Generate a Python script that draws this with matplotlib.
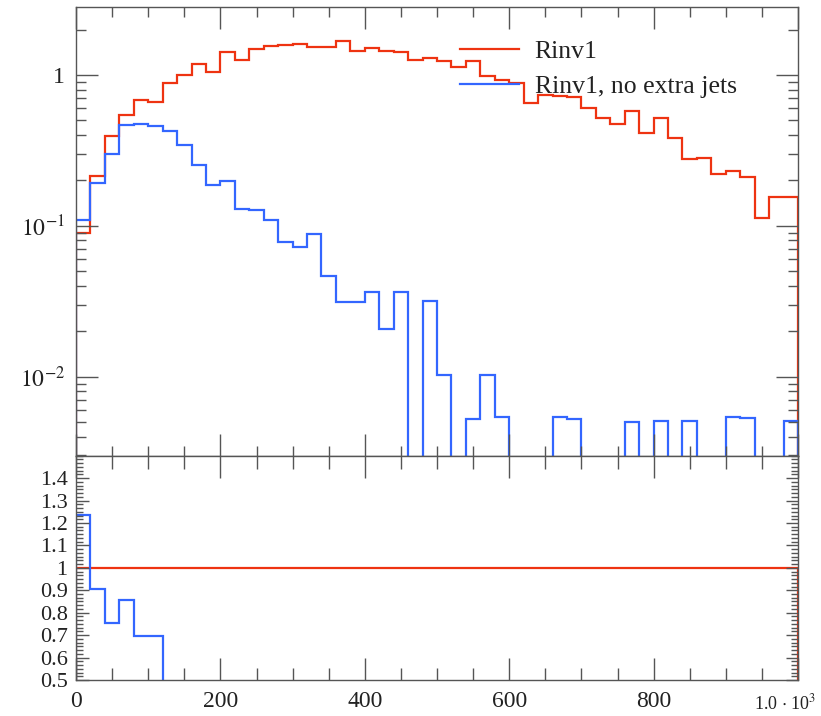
import numpy as np
import matplotlib
matplotlib.use("Agg")
import matplotlib.pyplot as plt
from matplotlib.ticker import MultipleLocator, AutoMinorLocator, LogLocator, NullFormatter, FixedLocator, FixedFormatter

# ---------------- data ----------------
bin_edges = np.arange(0, 1001, 20)  # 50 bins of width 20
red_vals = [0.089, 0.213, 0.394, 0.543, 0.683, 0.660, 0.889, 1.00, 1.18, 1.05,
            1.41, 1.26, 1.49, 1.55, 1.58, 1.60, 1.53, 1.54, 1.67, 1.43,
            1.50, 1.43, 1.41, 1.26, 1.29, 1.24, 1.135, 1.23, 0.985, 0.926,
            0.89, 0.649, 0.737, 0.726, 0.718, 0.601, 0.516, 0.473, 0.58, 0.41,
            0.516, 0.38, 0.276, 0.28, 0.221, 0.229, 0.212, 0.112, 0.156, 0.156]
blue_vals = [0.110, 0.193, 0.297, 0.465, 0.474, 0.459, 0.425, 0.343, 0.253, 0.187,
             0.199, 0.130, 0.127, 0.109, 0.0785, 0.072, 0.0883, 0.0465, 0.0314, 0.0314,
             0.0366, 0.0206, 0.0366, 0.0, 0.0317, 0.0102, 0.0, 0.0052, 0.0102, 0.00542,
             0.0, 0.0, 0.0, 0.0054, 0.0052, 0.0, 0.0, 0.0, 0.00502, 0.0,
             0.0051, 0.0, 0.0051, 0.0, 0.0, 0.0054, 0.0053, 0.0, 0.0, 0.0051]
labels = ["Rinv1", "Rinv1, no extra jets"]
x_tick_vals = [0, 200, 400, 600, 800, 1000]
x_tick_labels = ["0", "200", "400", "600", "800", ""]
ratio_tick_vals = [0.5, 0.6, 0.7, 0.8, 0.9, 1.0, 1.1, 1.2, 1.3, 1.4]
ratio_tick_labels = ["0.5", "0.6", "0.7", "0.8", "0.9", "1", "1.1", "1.2", "1.3", "1.4"]

RED = "#EE3311"
BLUE = "#3366FF"
AX_COL = "#555555"

plt.rcParams["font.family"] = ["Liberation Serif", "DejaVu Serif"]
plt.rcParams["mathtext.fontset"] = "stix"

W, H = 821, 716
fig = plt.figure(figsize=(W / 100, H / 100), dpi=100)

left, right = 76 / W, 798 / W
up_top, mid, lo_bot = 1 - 7 / H, 1 - 455.7 / H, 1 - 680 / H
ax = fig.add_axes([left, mid, right - left, up_top - mid])
axr = fig.add_axes([left, lo_bot, right - left, mid - lo_bot])

red = np.array(red_vals)
blue = np.array(blue_vals)
blue_plot = np.where(blue > 0, blue, 1e-9)

ax.stairs(red, bin_edges, color=RED, lw=1.6, label=labels[0])
ax.stairs(blue_plot, bin_edges, color=BLUE, lw=1.6, label=labels[1])
ax.set_yscale("log")
ax.set_ylim(0.00299, 2.82)
ax.set_xlim(0, 1000)

ratio_red = red / red
ratio_blue = np.where(blue > 0, blue / red, 1e-9)
axr.stairs(ratio_red, bin_edges, color=RED, lw=1.6)
axr.stairs(ratio_blue, bin_edges, color=BLUE, lw=1.6)
axr.set_xlim(0, 1000)
axr.set_ylim(0.5, 1.5)

for a in (ax, axr):
    for s in a.spines.values():
        s.set_color(AX_COL)
        s.set_linewidth(1.0)
    a.tick_params(which="both", direction="in", top=True, right=True, colors=AX_COL,
                  labelcolor="#222222", labelsize=17)
    a.tick_params(which="major", length=15.5, width=1.0)
    a.tick_params(which="minor", length=7, width=1.0)
    a.xaxis.set_major_locator(FixedLocator(x_tick_vals))
    a.xaxis.set_minor_locator(MultipleLocator(50))

ax.yaxis.set_major_locator(LogLocator(base=10, numticks=10))
ax.yaxis.set_minor_locator(LogLocator(base=10, subs=np.arange(2, 10), numticks=10))
ax.yaxis.set_minor_formatter(NullFormatter())
ax.yaxis.set_major_formatter(matplotlib.ticker.FuncFormatter(
    lambda v, p: "1" if abs(v - 1) < 1e-9 else r"$10^{%d}$" % round(np.log10(v))))
ax.tick_params(axis="x", labelbottom=False)
ax.tick_params(axis="y", pad=8)

axr.yaxis.set_major_locator(FixedLocator(ratio_tick_vals))
axr.yaxis.set_major_formatter(FixedFormatter(ratio_tick_labels))
axr.yaxis.set_minor_locator(AutoMinorLocator(6))
axr.tick_params(axis="y", which="major", length=9, labelsize=16, pad=6)
axr.tick_params(axis="y", which="minor", length=5)
axr.tick_params(axis="x", which="minor", length=9)
axr.xaxis.set_major_formatter(FixedFormatter(x_tick_labels))
axr.tick_params(axis="x", pad=8)

fig.text(816 / W, 1 - 703 / H, r"1.0 $\cdot$ 10$^{3}$", fontsize=13, color="#222222",
         ha="right", va="center")

leg = ax.legend(loc="upper left", bbox_to_anchor=(460 / W, 1 - 40 / H),
                bbox_transform=fig.transFigure, frameon=False, fontsize=18.5,
                handlelength=2.3, handletextpad=0.6, labelspacing=0.45,
                borderpad=0, borderaxespad=0)
for t in leg.get_texts():
    t.set_color("#222222")

fig.savefig("out.png", dpi=100)
